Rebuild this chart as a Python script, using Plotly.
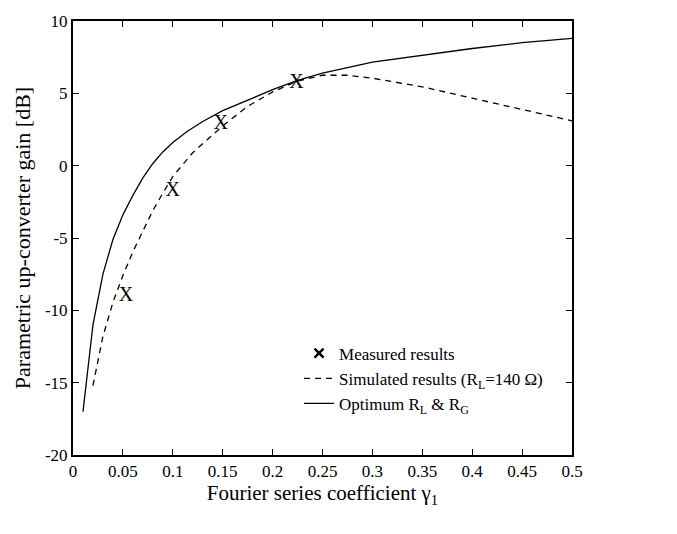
import plotly.graph_objects as go

# Optimum R_L & R_G (solid)
opt_x = [0.01, 0.02, 0.03, 0.04, 0.05, 0.06, 0.07, 0.08, 0.09, 0.10, 0.115, 0.13,
         0.15, 0.175, 0.20, 0.225, 0.25, 0.30, 0.35, 0.40, 0.45, 0.50]
opt_y = [-17.0, -11.0, -7.5, -5.1, -3.4, -2.05, -0.85, 0.15, 0.95, 1.6, 2.4, 3.05,
         3.8, 4.55, 5.25, 5.9, 6.4, 7.15, 7.65, 8.1, 8.5, 8.8]

# Simulated results (R_L = 140 ohm) (dashed)
sim_x = [0.02, 0.03, 0.04, 0.05, 0.06, 0.07, 0.08, 0.09, 0.10, 0.12, 0.15, 0.175,
         0.20, 0.225, 0.25, 0.275, 0.30, 0.35, 0.40, 0.45, 0.50]
sim_y = [-15.2, -11.8, -9.45, -7.6, -5.95, -4.5, -3.1, -1.9, -0.75, 0.9, 2.75, 4.1,
         5.1, 5.85, 6.25, 6.25, 6.05, 5.45, 4.65, 3.9, 3.1]

# Measured results
meas_x = [0.053, 0.100, 0.148, 0.224]
meas_y = [-9.0, -1.75, 2.9, 5.7]

x_ticks = [0, 0.05, 0.1, 0.15, 0.2, 0.25, 0.3, 0.35, 0.4, 0.45, 0.5]
x_ticktext = ["0", "0.05", "0.1", "0.15", "0.2", "0.25", "0.3", "0.35", "0.4", "0.45", "0.5"]
y_ticks = [10, 5, 0, -5, -10, -15, -20]
y_ticktext = ["10", "5", "0", "-5", "-10", "-15", "-20"]

FONT = "Liberation Serif"

fig = go.Figure()

fig.add_trace(go.Scatter(
    x=meas_x, y=meas_y, mode="text", text=["X"] * len(meas_x),
    textposition="middle center",
    textfont=dict(family=FONT, size=20, color="black"),
    showlegend=False, legendgroup="m", hoverinfo="x+y"))

# legend entry for the measured points (no data of its own)
fig.add_trace(go.Scatter(
    x=[None], y=[None], mode="markers", name="Measured results",
    legendgroup="m",
    marker=dict(symbol="x-thin", size=9, color="black",
                line=dict(width=2.5, color="black"))))

fig.add_trace(go.Scatter(
    x=sim_x, y=sim_y, mode="lines",
    name="Simulated results (R<sub>L</sub>=140 Ω)",
    line=dict(color="black", width=1.3, dash="6px,5px")))

fig.add_trace(go.Scatter(
    x=opt_x, y=opt_y, mode="lines",
    name="Optimum R<sub>L</sub> &amp; R<sub>G</sub>",
    line=dict(color="black", width=1.3)))

fig.update_layout(
    width=677, height=534,
    margin=dict(l=73, r=105, t=15, b=79),
    paper_bgcolor="white", plot_bgcolor="white",
    font=dict(family=FONT, size=17, color="black"),
    showlegend=True,
    legend=dict(x=0.453, y=0.275, xanchor="left", yanchor="top",
                bgcolor="rgba(0,0,0,0)", borderwidth=0, tracegroupgap=0,
                font=dict(family=FONT, size=17, color="black"),
                itemwidth=30),
    xaxis=dict(range=[0, 0.5], tickmode="array", tickvals=x_ticks, ticktext=x_ticktext,
               ticks="inside", ticklen=6, tickwidth=1, tickcolor="black",
               showline=True, linewidth=2, linecolor="black", mirror="ticks",
               showgrid=False, zeroline=False,
               tickfont=dict(family=FONT, size=17),
               title=dict(text="Fourier series coefficient γ<sub>1</sub>",
                          font=dict(family=FONT, size=21), standoff=2)),
    yaxis=dict(range=[-20, 10], tickmode="array", tickvals=y_ticks, ticktext=y_ticktext,
               ticks="inside", ticklen=6, tickwidth=1, tickcolor="black",
               showline=True, linewidth=2, linecolor="black", mirror="ticks",
               showgrid=False, zeroline=False,
               tickfont=dict(family=FONT, size=17),
               title=dict(text="Parametric up-converter gain [dB]",
                          font=dict(family=FONT, size=22), standoff=8)),
)

fig.write_html("out.html", config={"displayModeBar": False},
               post_script="document.body.style.margin='0';")
